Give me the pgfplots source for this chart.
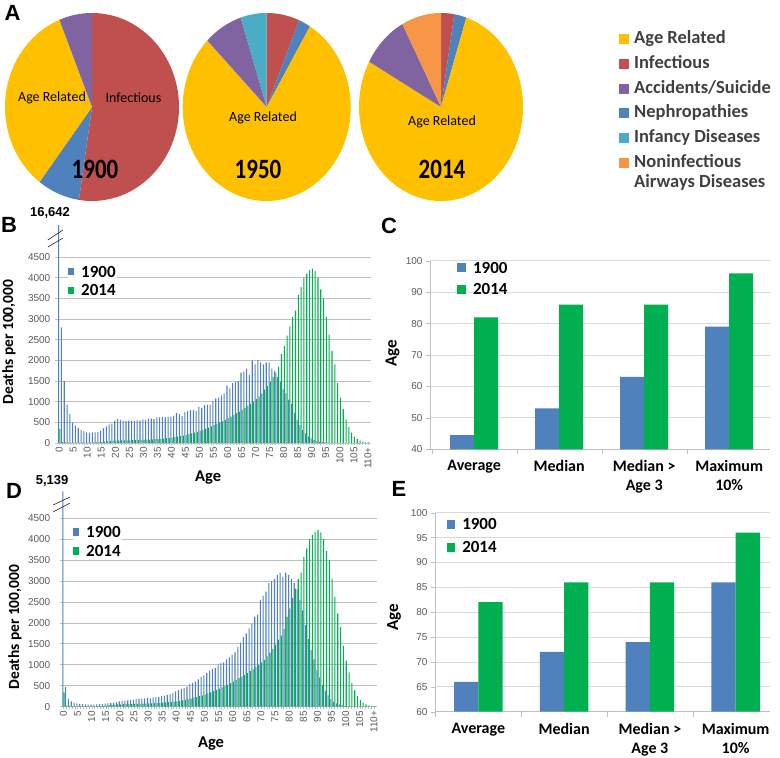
\documentclass[border=0pt]{standalone}
\usepackage{fontspec}
\setmainfont{Carlito}
\newfontfamily\arialf{Liberation Sans}
\usepackage{pgfplots}
\usepackage{pgfplotstable}
\pgfplotsset{compat=1.18}

\definecolor{cAge}{HTML}{FFC000}
\definecolor{cInf}{HTML}{C0504D}
\definecolor{cAcc}{HTML}{8064A2}
\definecolor{cNeph}{HTML}{4F81BD}
\definecolor{cInfancy}{HTML}{4BACC6}
\definecolor{cAir}{HTML}{F79646}
\definecolor{c1900}{HTML}{4F81BD}
\definecolor{c2014}{HTML}{00B050}
\definecolor{tickgray}{HTML}{595959}
\definecolor{gridgray}{HTML}{BFBFBF}
\definecolor{gridlight}{HTML}{D9D9D9}
\definecolor{legtext}{HTML}{404040}

\newcommand{\fsz}[1]{\fontsize{#1pt}{#1pt}\selectfont}

\pgfplotsset{
  sqlegend/.style 2 args={legend image code/.code={\fill[##1,draw=none] (0pt,-#2/2) rectangle (#1,#2/2);}},
}

% cumulative percentages, clockwise from 12 o'clock
\newcommand{\pieslice}[7]{%
  \fill[#7] (axis cs:#1,#2) -- (axis cs:{#1+#3*sin(3.6*#5)},{#2+#4*cos(3.6*#5)})
    arc[start angle={90-3.6*#5}, end angle={90-3.6*#6}, x radius=#3pt, y radius=#4pt] -- cycle;}

% deaths per 100,000 by age: panel B 1900, panel D 1900, 2014
\pgfplotstableread{
age b1900 d1900 y2014
0 16642 5139 340
1 2800 470 25
2 1500 190 15
3 930 130 12
4 700 100 10
5 500 80 9
6 420 70 8
7 360 62 8
8 320 56 8
9 290 52 8
10 260 50 9
11 250 52 10
12 255 55 12
13 260 60 15
14 265 65 20
15 300 72 28
16 360 80 35
17 400 90 42
18 450 100 50
19 470 110 55
20 540 125 58
21 580 135 60
22 560 145 62
23 540 150 63
24 530 158 64
25 540 168 65
26 540 178 67
27 540 185 70
28 550 190 72
29 540 198 75
30 570 208 78
31 560 200 80
32 590 220 84
33 590 228 88
34 580 232 92
35 620 250 96
36 620 262 102
37 630 280 108
38 620 300 115
39 630 325 122
40 640 365 130
41 660 400 140
42 730 430 152
43 700 450 165
44 650 480 180
45 750 540 195
46 780 570 212
47 800 600 230
48 800 650 250
49 780 720 272
50 880 750 295
51 850 800 320
52 920 860 345
53 930 900 370
54 930 930 400
55 1020 1000 430
56 1080 1040 460
57 1100 1060 490
58 1150 1130 525
59 1200 1180 560
60 1390 1240 600
61 1320 1300 640
62 1450 1420 680
63 1480 1530 720
64 1500 1660 760
65 1700 1750 800
66 1730 1870 850
67 1800 1980 900
68 1650 2150 950
69 2000 2200 1000
70 1900 2550 1060
71 2010 2650 1120
72 1950 2750 1200
73 1900 2950 1290
74 1950 3000 1380
75 1950 3050 1480
76 1800 3150 1600
77 1750 3200 1700
78 1600 3100 1850
79 1480 3200 2150
80 1300 3150 2350
81 1200 3050 2600
82 1050 2950 2820
83 950 2800 3050
84 720 2550 3200
85 560 2300 3580
86 430 1950 3780
87 320 1620 4000
88 230 1350 4100
89 160 1130 4180
90 110 880 4220
91 75 700 4160
92 50 520 4000
93 32 380 3720
94 20 270 3500
95 12 180 3050
96 8 120 2620
97 5 80 2230
98 3 50 1900
99 2 30 1450
100 1 20 1100
101 1 10 820
102 1 6 570
103 0 4 390
104 0 2 250
105 0 1 155
106 0 1 95
107 0 0 55
108 0 0 32
109 0 0 18
110 0 0 12
}\dataH

\pgfplotstableread{
idx a b
0 44.5 82
1 53 86
2 63 86
3 79 96
}\dataC

\pgfplotstableread{
idx a b
0 66 82
1 72 86
2 74 86
3 86 96
}\dataE

\begin{document}
\begin{tikzpicture}
\useasboundingbox (0,0) rectangle (780pt,758pt);

%================ A: pies =================
\begin{axis}[at={(0pt,548pt)}, anchor=south west, x=1pt, y=1pt,
  xmin=0, xmax=780, ymin=548, ymax=758, hide axis, clip=false,
  legend cell align=left,
  legend image code/.code={\fill[#1,draw=none] (0pt,-5pt) rectangle (10pt,5pt);},
  legend style={at={(0.7936,0.8586)}, anchor=north west, draw=none, fill=none,
    inner sep=0pt, row sep=5.7pt, column sep=4pt,
    font=\bfseries\fontsize{18.5pt}{20.6pt}\selectfont,
    nodes={inner sep=1pt, text height=13pt, text depth=4pt, text=legtext}}]
\addlegendimage{fill=cAge}\addlegendentry{Age Related}
\addlegendimage{fill=cInf}\addlegendentry{Infectious}
\addlegendimage{fill=cAcc}\addlegendentry{Accidents/Suicide}
\addlegendimage{fill=cNeph}\addlegendentry{Nephropathies}
\addlegendimage{fill=cInfancy}\addlegendentry{Infancy Diseases}
\addlegendimage{fill=cAir}\addlegendentry{\begin{tabular}[t]{@{}l@{}}Noninfectious\\Airways Diseases\end{tabular}}

% 1900
\pieslice{92}{651}{87}{94}{0}{52.4}{cInf}
\pieslice{92}{651}{87}{94}{52.4}{60.3}{cNeph}
\pieslice{92}{651}{87}{94}{60.3}{93.9}{cAge}
\pieslice{92}{651}{87}{94}{93.9}{100}{cAcc}
% 1950
\pieslice{266.7}{651}{84}{94}{0}{6.3}{cInf}
\pieslice{266.7}{651}{84}{94}{6.3}{8.6}{cNeph}
\pieslice{266.7}{651}{84}{94}{8.6}{87.5}{cAge}
\pieslice{266.7}{651}{84}{94}{87.5}{95}{cAcc}
\pieslice{266.7}{651}{84}{94}{95}{100}{cInfancy}
% 2014
\pieslice{441}{651}{82}{94}{0}{2.6}{cInf}
\pieslice{441}{651}{82}{94}{2.6}{5}{cNeph}
\pieslice{441}{651}{82}{94}{5}{83}{cAge}
\pieslice{441}{651}{82}{94}{83}{92.2}{cAcc}
\pieslice{441}{651}{82}{94}{92.2}{100}{cAir}

\node[font=\fsz{14}] at (axis cs:52,660) {Age Related};
\node[font=\fsz{14}] at (axis cs:133.5,660) {Infectious};
\node[font=\bfseries\fsz{28}, xscale=0.82] at (axis cs:95,589) {1900};
\node[font=\fsz{14}] at (axis cs:263,640) {Age Related};
\node[font=\bfseries\fsz{28}, xscale=0.82] at (axis cs:258,589) {1950};
\node[font=\fsz{14}] at (axis cs:442,636) {Age Related};
\node[font=\bfseries\fsz{28}, xscale=0.82] at (axis cs:442,589) {2014};
\end{axis}

%================ B =================
\begin{axis}[at={(55pt,315pt)}, anchor=south west, scale only axis,
  width=315.7pt, height=218pt,
  xmin=-1.5, xmax=111, ymin=0, ymax=5275, clip=false,
  restrict y to domain*=0:5275,
  axis x line*=bottom, axis y line*=left,
  y axis line style={draw=none}, x axis line style={gridgray, line width=0.8pt},
  ytick={0,500,...,4500}, ymajorgrids, grid style={gridgray, line width=0.8pt},
  ytick style={draw=none},
  xtick={0,5,...,110},
  xticklabels={0,5,10,15,20,25,30,35,40,45,50,55,60,65,70,75,80,85,90,95,100,105,110+},
  minor x tick num=4, xtick style={gridgray}, tick align=outside,
  major tick length=2.5pt, minor tick length=2pt,
  xticklabel style={rotate=90, anchor=east, font=\arialf\fsz{10}, text=tickgray, inner sep=1.5pt},
  yticklabel style={font=\arialf\fsz{10}, text=tickgray, inner sep=2pt},
  /pgf/number format/assume math mode=true, /pgf/number format/1000 sep={},
  scaled y ticks=false,
  xlabel={Age}, ylabel={Deaths per 100,000},
  every axis x label/.style={at={(axis description cs:0.485,0)}, anchor=center, yshift=-35pt, font=\bfseries\fsz{16.5}},
  every axis y label/.style={at={(axis description cs:0,0.463)}, xshift=-46pt, anchor=center, rotate=90, font=\bfseries\fsz{15.5}},
  legend style={at={(0.041,0.816)}, anchor=north west, draw=none, fill=white,
    inner sep=0pt, row sep=5.3pt, column sep=6pt,
    font=\bfseries\fsz{17},
    nodes={inner sep=1pt, text height=11pt, text depth=0pt}},
  legend cell align=left]
\addplot[ybar, bar width=0.38, bar shift=0pt, fill=c1900, draw=none, sqlegend={6pt}{7pt}]
  table[x expr=\thisrow{age}-0.21, y=b1900]{\dataH};
\addplot[ybar, bar width=0.38, bar shift=0pt, fill=c2014, draw=none, sqlegend={6pt}{7pt}]
  table[x expr=\thisrow{age}+0.21, y=y2014]{\dataH};
\legend{1900,2014}
\draw[black!85, line width=0.6pt] (axis cs:-4.03,4742) -- (axis cs:1.32,4960);
\draw[black!85, line width=0.6pt] (axis cs:-4.03,4912) -- (axis cs:1.32,5154);
\node[font=\arialf\bfseries\fsz{13}, yshift=12pt] at (axis cs:-3.3,5275) {16,642};
\end{axis}

%================ D =================
\begin{axis}[at={(60pt,51.3pt)}, anchor=south west, scale only axis,
  width=316.7pt, height=215.2pt,
  xmin=-1.2, xmax=111, ymin=0, ymax=5139, clip=false,
  axis x line*=bottom, axis y line*=left,
  y axis line style={draw=none}, x axis line style={gridgray, line width=0.8pt},
  ytick={0,500,...,4500}, ymajorgrids, grid style={gridgray, line width=0.8pt},
  ytick style={draw=none},
  xtick={0,5,...,110},
  xticklabels={0,5,10,15,20,25,30,35,40,45,50,55,60,65,70,75,80,85,90,95,100,105,110+},
  minor x tick num=4, xtick style={gridgray}, tick align=outside,
  major tick length=2.5pt, minor tick length=2pt,
  xticklabel style={rotate=90, anchor=east, font=\arialf\fsz{10}, text=tickgray, inner sep=1.5pt},
  yticklabel style={font=\arialf\fsz{10}, text=tickgray, inner sep=2pt, xshift=-5pt},
  /pgf/number format/assume math mode=true, /pgf/number format/1000 sep={},
  scaled y ticks=false,
  xlabel={Age}, ylabel={Deaths per 100,000},
  every axis x label/.style={at={(axis description cs:0.477,0)}, anchor=center, yshift=-37.3pt, font=\bfseries\fsz{16.5}},
  every axis y label/.style={at={(axis description cs:0,0.370)}, xshift=-45pt, anchor=center, rotate=90, font=\bfseries\fsz{15.5}},
  legend style={at={(0.041,0.845)}, anchor=north west, draw=none, fill=white,
    inner sep=0pt, row sep=6pt, column sep=6pt,
    font=\bfseries\fsz{17},
    nodes={inner sep=1pt, text height=11pt, text depth=0pt}},
  legend cell align=left]
\addplot[ybar, bar width=0.38, bar shift=0pt, fill=c1900, draw=none, sqlegend={6pt}{8pt}]
  table[x expr=\thisrow{age}-0.21, y=d1900]{\dataH};
\addplot[ybar, bar width=0.38, bar shift=0pt, fill=c2014, draw=none, sqlegend={6pt}{8pt}]
  table[x expr=\thisrow{age}+0.21, y=y2014]{\dataH};
\legend{1900,2014}
\draw[black!85, line width=0.6pt] (axis cs:-3.65,4650) -- (axis cs:2.37,4865);
\draw[black!85, line width=0.6pt] (axis cs:-3.65,4817) -- (axis cs:2.37,5008);
\node[font=\arialf\bfseries\fsz{13}, yshift=11pt] at (axis cs:-4,5139) {5,139};
\end{axis}

%================ C =================
\begin{axis}[at={(430pt,308.7pt)}, anchor=south west, scale only axis,
  width=340pt, height=188.6pt,
  xmin=-0.52, xmax=3.48, ymin=40, ymax=100,
  ytick={40,50,...,100}, ymajorgrids, grid style={gridlight, line width=0.8pt},
  axis x line*=bottom, axis y line*=left, axis line style={gridgray, line width=0.7pt},
  xtick={0,1,2,3},
  xticklabels={Average,Median,{Median >\\Age 3},{Maximum\\10\%}},
  xticklabel style={align=center, font=\bfseries\fontsize{16pt}{19.5pt}\selectfont, text=black, anchor=north, yshift=-3pt},
  major x tick style={draw=none}, minor xtick={-0.5,0.5,1.5,2.5},
  xtick style={gridgray}, ytick style={gridgray}, tick align=outside,
  major tick length=4pt, minor tick length=5pt,
  yticklabel style={font=\arialf\fsz{10}, text=tickgray},
  /pgf/number format/assume math mode=true,
  ylabel={Age},
  every axis y label/.style={at={(axis description cs:0,0.508)}, xshift=-37.5pt, anchor=center, rotate=90, font=\bfseries\fsz{17}},
  legend style={at={(0.079,0.999)}, anchor=north west, draw=none, fill=none,
    inner sep=0pt, row sep=8.7pt, column sep=6pt,
    font=\bfseries\fsz{17},
    nodes={inner sep=1pt, text height=11pt, text depth=0pt}},
  legend cell align=left]
\addplot[ybar, bar width=0.282, bar shift=0pt, fill=c1900, draw=none, sqlegend={9pt}{9pt}]
  table[x expr=\thisrow{idx}-0.141, y=a]{\dataC};
\addplot[ybar, bar width=0.282, bar shift=0pt, fill=c2014, draw=none, sqlegend={9pt}{9pt}]
  table[x expr=\thisrow{idx}+0.141, y=b]{\dataC};
\legend{1900,2014}
\end{axis}

%================ E =================
\begin{axis}[at={(435pt,46.3pt)}, anchor=south west, scale only axis,
  width=335pt, height=199pt,
  xmin=-0.505, xmax=3.4, ymin=60, ymax=100,
  ytick={60,65,...,100}, ymajorgrids, grid style={gridlight, line width=0.8pt},
  axis x line*=bottom, axis y line*=left, axis line style={gridgray, line width=0.7pt},
  xtick={0,1,2,3},
  xticklabels={Average,Median,{Median >\\Age 3},{Maximum\\10\%}},
  xticklabel style={align=center, font=\bfseries\fontsize{16pt}{19.5pt}\selectfont, text=black, anchor=north, yshift=-4pt},
  major x tick style={draw=none}, minor xtick={-0.5,0.5,1.5,2.5},
  xtick style={gridgray}, ytick style={gridgray}, tick align=outside,
  major tick length=4pt, minor tick length=5pt,
  yticklabel style={font=\arialf\fsz{10}, text=tickgray},
  /pgf/number format/assume math mode=true,
  ylabel={Age},
  every axis y label/.style={at={(axis description cs:0,0.476)}, xshift=-41pt, anchor=center, rotate=90, font=\bfseries\fsz{17}},
  legend style={at={(0.036,0.976)}, anchor=north west, draw=none, fill=none,
    inner sep=0pt, row sep=10.3pt, column sep=6pt,
    font=\bfseries\fsz{17},
    nodes={inner sep=1pt, text height=11pt, text depth=0pt}},
  legend cell align=left]
\addplot[ybar, bar width=0.283, bar shift=0pt, fill=c1900, draw=none, sqlegend={8pt}{9pt}]
  table[x expr=\thisrow{idx}-0.1415, y=a]{\dataE};
\addplot[ybar, bar width=0.283, bar shift=0pt, fill=c2014, draw=none, sqlegend={8pt}{9pt}]
  table[x expr=\thisrow{idx}+0.1415, y=b]{\dataE};
\legend{1900,2014}
\end{axis}

%================ panel letters =================
\node[font=\arialf\bfseries\fsz{22}] at (12.5pt,745.5pt) {A};
\node[font=\arialf\bfseries\fsz{22}] at (9pt,533pt) {B};
\node[font=\arialf\bfseries\fsz{22}] at (389pt,532pt) {C};
\node[font=\arialf\bfseries\fsz{22}] at (14pt,267pt) {D};
\node[font=\arialf\bfseries\fsz{22}] at (399pt,269pt) {E};
\end{tikzpicture}
\end{document}
